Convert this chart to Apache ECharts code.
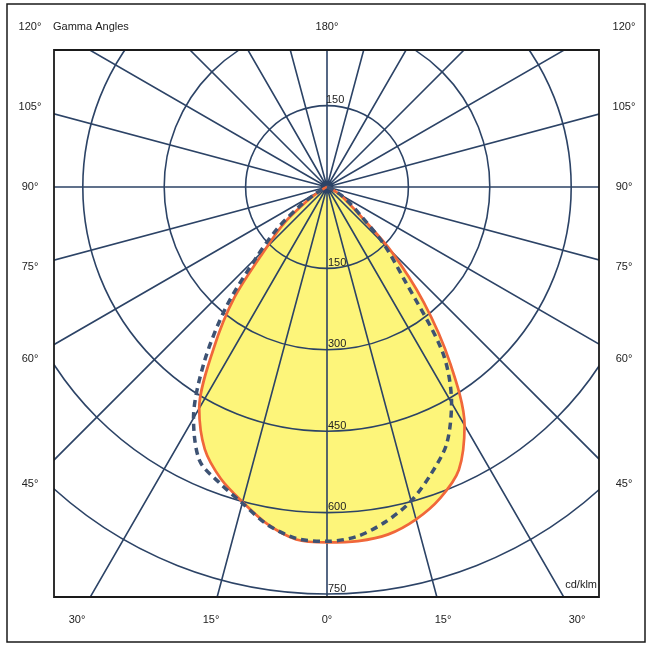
<!DOCTYPE html>
<html>
<head>
<meta charset="utf-8">
<title>Gamma Angles</title>
<script src="https://cdn.jsdelivr.net/npm/echarts@6.0.0/dist/echarts.min.js"></script>
<style>
    html, body { margin: 0; padding: 0; background: #fff; }
    #chart { width: 651px; height: 648px; }
</style>
</head>
<body>
<div id="chart"></div>
<script>
// gamma angles (deg) the curves were read at, 0 = straight down
const gammaSteps = [0, 5, 10, 15, 20, 25, 30, 35, 40, 45, 50, 55, 60, 65, 70, 75, 80];

// luminous intensity, cd/klm
// solid orange curve (filled): left half / right half
const c0Values   = [655, 652, 631, 601, 572, 533, 471, 365, 265, 158, 102, 45, 15, 5, 2, 0, 0];
const c180Values = [655, 655, 650, 634, 610, 575, 507, 395, 277, 167, 73, 42, 26, 12, 5, 2, 0];
// dashed blue curve: left half / right half
const c90Values  = [653, 650, 632, 603, 580, 556, 492, 395, 290, 185, 120, 62, 25, 9, 3, 1, 0];
const c270Values = [653, 646, 626, 599, 562, 522, 459, 371, 219, 146, 80, 50, 30, 14, 5, 2, 0];

// ring labels and frame labels
const radiusTicks = [150, 300, 450, 600, 750];
const frameGammaLabels = [0, 15, 30, 45, 60, 75, 90, 105, 120];
const topGammaLabel = 180;

const polarCenter = [327, 187];
const ringRadius = 407;      // px for 750 cd/klm
const fontFamily = 'Liberation Sans, Arial, sans-serif';
const gridLine = { color: '#2c4366', width: 1.6 };

// right half goes from 80deg back to the nadir, then the left half outwards
function planePair(leftVals, rightVals) {
    const pts = [];
    for (let i = gammaSteps.length - 1; i >= 0; i--) {
        pts.push([rightVals[i], 360 - gammaSteps[i]]);
    }
    for (let i = 1; i < gammaSteps.length; i++) {
        pts.push([leftVals[i], gammaSteps[i]]);
    }
    return pts;
}

// frame labels sit where the spoke hits the label box, clamped at the top row
function frameLabelPos(gamma, side) {
    const g = gamma * Math.PI / 180;
    const dx = side * Math.sin(g);
    const dy = Math.cos(g);
    const colX = side < 0 ? 30 : 624;
    const rowBottom = 620, rowTop = 27;
    let t = Infinity;
    if (Math.abs(dx) > 1e-6) t = Math.min(t, (colX - polarCenter[0]) / dx);
    if (dy > 1e-6) t = Math.min(t, (rowBottom - polarCenter[1]) / dy);
    let x = polarCenter[0] + t * dx;
    let y = polarCenter[1] + t * dy;
    if (y < rowTop) y = rowTop;
    return [x, y];
}

const labelStyle = { fill: '#222', fontSize: 11, fontFamily: fontFamily, align: 'center', verticalAlign: 'middle' };

const graphics = [
    // mask everything outside the plot box
    { type: 'rect', shape: { x: 0, y: 0, width: 651, height: 50 }, style: { fill: '#fff' }, z: 100, silent: true },
    { type: 'rect', shape: { x: 0, y: 597, width: 651, height: 51 }, style: { fill: '#fff' }, z: 100, silent: true },
    { type: 'rect', shape: { x: 0, y: 50, width: 54, height: 547 }, style: { fill: '#fff' }, z: 100, silent: true },
    { type: 'rect', shape: { x: 599, y: 50, width: 52, height: 547 }, style: { fill: '#fff' }, z: 100, silent: true },
    // borders
    { type: 'rect', shape: { x: 54, y: 50, width: 545, height: 547 }, style: { fill: null, stroke: '#1a1a1a', lineWidth: 1.8 }, z: 101, silent: true },
    { type: 'rect', shape: { x: 7, y: 4, width: 638, height: 638 }, style: { fill: null, stroke: '#1a1a1a', lineWidth: 1.5 }, z: 101, silent: true },
    { type: 'text', x: 53, y: 27, style: Object.assign({}, labelStyle, { text: 'Gamma Angles', align: 'left' }), z: 101, silent: true },
    { type: 'text', x: 597, y: 585, style: Object.assign({}, labelStyle, { text: 'cd/klm', align: 'right' }), z: 101, silent: true }
];

frameGammaLabels.forEach(function (g) {
    const sides = g === 0 ? [1] : [-1, 1];
    sides.forEach(function (s) {
        const p = frameLabelPos(g, s);
        graphics.push({ type: 'text', x: p[0], y: p[1], style: Object.assign({}, labelStyle, { text: g + '°' }), z: 101, silent: true });
    });
});
graphics.push({ type: 'text', x: polarCenter[0], y: 27, style: Object.assign({}, labelStyle, { text: topGammaLabel + '°' }), z: 101, silent: true });

const ringLabel = {
    fontSize: 11,
    color: '#222',
    fontFamily: fontFamily,
    align: 'left',
    verticalAlign: 'bottom',
    margin: 1
};

const chart = echarts.init(document.getElementById('chart'));
const option = {
    backgroundColor: '#fff',
    animation: false,
    polar: [
        { center: polarCenter, radius: ringRadius },
        { center: polarCenter, radius: ringRadius * 1.4 }
    ],
    angleAxis: [
        {
            polarIndex: 0, type: 'value', min: 0, max: 360, interval: 15,
            startAngle: 270, clockwise: true,
            axisLine: { show: false }, axisTick: { show: false },
            axisLabel: { show: false }, splitLine: { show: false }, z: 1
        },
        {
            polarIndex: 1, type: 'value', min: 0, max: 360, interval: 15,
            startAngle: 90, clockwise: true,
            axisLine: { show: false }, axisTick: { show: false },
            axisLabel: { show: false },
            splitLine: { show: true, lineStyle: gridLine }, z: 1
        }
    ],
    radiusAxis: [
        {
            polarIndex: 0, type: 'value', min: 0, max: 750, interval: 150,
            axisLine: { show: false }, axisTick: { show: false },
            splitLine: { show: true, lineStyle: gridLine },
            axisLabel: Object.assign({}, ringLabel, {
                formatter: function (v) { return radiusTicks.indexOf(v) >= 0 ? String(v) : ''; }
            }),
            z: 1
        },
        {
            polarIndex: 1, type: 'value', min: 0, max: 1050, interval: 150,
            axisLine: { show: false }, axisTick: { show: false },
            splitLine: { show: false },
            axisLabel: Object.assign({}, ringLabel, {
                formatter: function (v) { return v === radiusTicks[0] ? String(v) : ''; }
            }),
            z: 1
        }
    ],
    series: [
        {
            name: 'C0-C180 fill', type: 'line', coordinateSystem: 'polar', polarIndex: 0,
            data: planePair(c0Values, c180Values), smooth: 0.3, symbol: 'none',
            lineStyle: { opacity: 0 }, areaStyle: { color: '#fdf57a', opacity: 1 },
            z: 0, silent: true
        },
        {
            name: 'C0-C180', type: 'line', coordinateSystem: 'polar', polarIndex: 0,
            data: planePair(c0Values, c180Values), smooth: 0.3, symbol: 'none',
            lineStyle: { color: '#f0673a', width: 2.7 }, z: 3
        },
        {
            name: 'C90-C270', type: 'line', coordinateSystem: 'polar', polarIndex: 0,
            data: planePair(c90Values, c270Values), smooth: 0.3, symbol: 'none',
            lineStyle: { color: '#3d5273', width: 3.5, type: [7, 5] }, z: 4
        }
    ],
    graphic: { elements: graphics }
};
chart.setOption(option);
</script>
</body>
</html>
